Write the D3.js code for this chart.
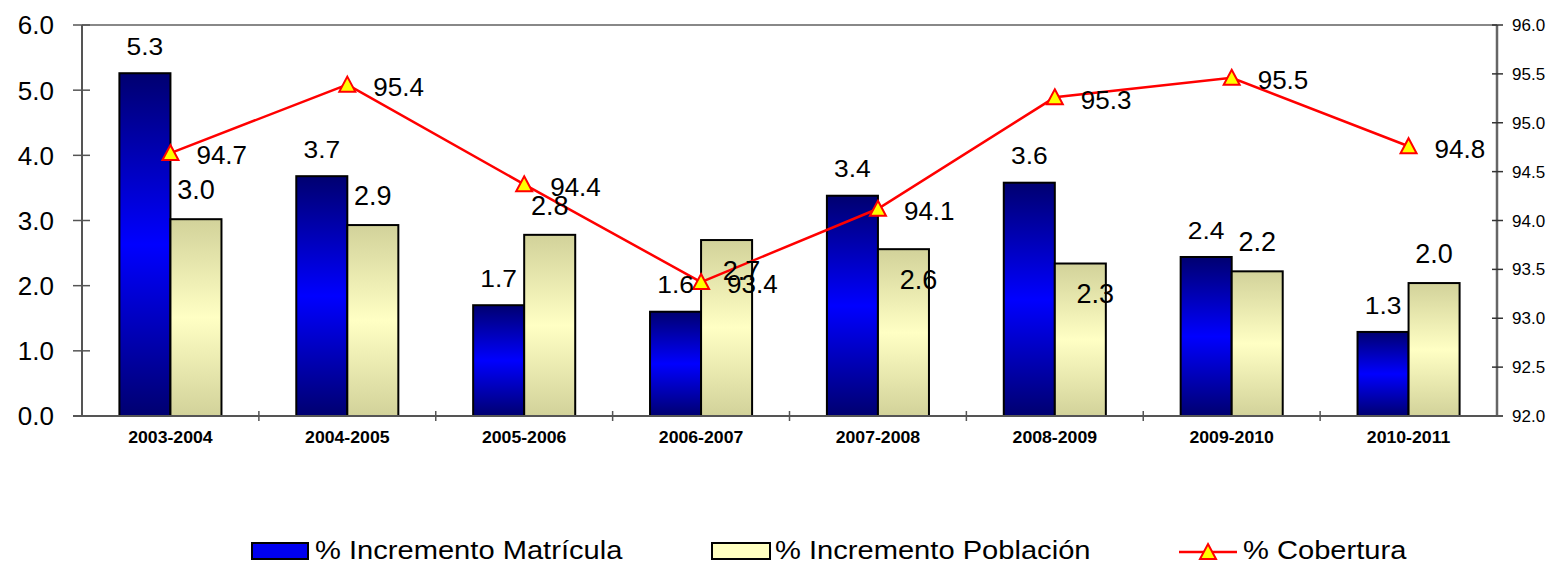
<!DOCTYPE html>
<html>
<head>
<meta charset="utf-8">
<script src="https://cdn.jsdelivr.net/npm/d3@7"></script>
<style>
  html, body { margin: 0; padding: 0; background: #fff; }
  svg { display: block; font-family: "Liberation Sans", Arial, sans-serif; }
</style>
</head>
<body>
<svg id="chart" width="1553" height="564"></svg>
<script>
// School-year periods
const categories = ["2003-2004", "2004-2005", "2005-2006", "2006-2007",
                    "2007-2008", "2008-2009", "2009-2010", "2010-2011"];
// % Incremento Matrícula (left axis)
const matricula = [5.26, 3.68, 1.70, 1.60, 3.38, 3.58, 2.44, 1.29];
// % Incremento Población (left axis)
const poblacion = [3.02, 2.93, 2.78, 2.70, 2.56, 2.34, 2.22, 2.04];
// % Cobertura (right axis)
const cobertura = [94.69, 95.39, 94.37, 93.37, 94.12, 95.26, 95.46, 94.76];
// Where each Población value label sits relative to its bar top
const poblacionLabelSide = ["above", "above", "above", "below", "below", "below", "above", "above"];

const leftTicks = [0, 1, 2, 3, 4, 5, 6];
const rightTicks = [92, 92.5, 93, 93.5, 94, 94.5, 95, 95.5, 96];
const seriesNames = ["% Incremento Matrícula", "% Incremento Población", "% Cobertura"];

const svg = d3.select("#chart");

const plot = { left: 82, right: 1497, top: 25, bottom: 416 };

const x = d3.scaleBand().domain(categories)
  .range([plot.left, plot.right])
  .paddingInner(0.423).paddingOuter(0.2115);
const xSub = d3.scaleBand().domain(["m", "p"]).range([0, x.bandwidth()]);
const yL = d3.scaleLinear().domain([0, 6]).range([plot.bottom, plot.top]);
const yR = d3.scaleLinear().domain([92, 96]).range([plot.bottom, plot.top]);

// Gradients for bars
const defs = svg.append("defs");
function vGrad(id, edge, mid) {
  const g = defs.append("linearGradient").attr("id", id)
    .attr("x1", 0).attr("y1", 0).attr("x2", 0).attr("y2", 1);
  g.append("stop").attr("offset", "0%").attr("stop-color", edge);
  g.append("stop").attr("offset", "50%").attr("stop-color", mid);
  g.append("stop").attr("offset", "100%").attr("stop-color", edge);
}
vGrad("gBlue", "#000070", "#0000FF");
vGrad("gBeige", "#D2D29A", "#FFFFC4");

// Top border of plot area
svg.append("line")
  .attr("x1", plot.left).attr("x2", plot.right)
  .attr("y1", plot.top).attr("y2", plot.top)
  .attr("stroke", "#888").attr("stroke-width", 2);

// Bars
const groups = svg.append("g").selectAll("g").data(categories).join("g")
  .attr("transform", d => `translate(${x(d)},0)`);

groups.append("rect")
  .attr("x", xSub("m")).attr("width", xSub.bandwidth())
  .attr("y", (d, i) => yL(matricula[i]))
  .attr("height", (d, i) => yL(0) - yL(matricula[i]))
  .attr("fill", "url(#gBlue)").attr("stroke", "#000").attr("stroke-width", 2);

groups.append("rect")
  .attr("x", xSub("p")).attr("width", xSub.bandwidth())
  .attr("y", (d, i) => yL(poblacion[i]))
  .attr("height", (d, i) => yL(0) - yL(poblacion[i]))
  .attr("fill", "url(#gBeige)").attr("stroke", "#000").attr("stroke-width", 2);

// Left axis
const axisColor = "#555";
svg.append("line").attr("x1", plot.left).attr("x2", plot.left)
  .attr("y1", plot.top).attr("y2", plot.bottom)
  .attr("stroke", axisColor).attr("stroke-width", 2);
const la = svg.append("g");
la.selectAll("line").data(leftTicks).join("line")
  .attr("x1", plot.left - 9).attr("x2", plot.left + 8)
  .attr("y1", d => yL(d)).attr("y2", d => yL(d))
  .attr("stroke", axisColor).attr("stroke-width", 1.5);
la.selectAll("text").data(leftTicks).join("text")
  .attr("x", plot.left - 28).attr("y", d => yL(d)).attr("dy", "0.36em")
  .attr("text-anchor", "end").attr("font-size", 26).attr("fill", "#000")
  .text(d => d3.format(".1f")(d));

// Right axis
svg.append("line").attr("x1", plot.right).attr("x2", plot.right)
  .attr("y1", plot.top).attr("y2", plot.bottom)
  .attr("stroke", "#666").attr("stroke-width", 2.5);
const ra = svg.append("g");
ra.selectAll("line").data(rightTicks).join("line")
  .attr("x1", plot.right - 5).attr("x2", plot.right + 6)
  .attr("y1", d => yR(d)).attr("y2", d => yR(d))
  .attr("stroke", "#333").attr("stroke-width", 1.5);
ra.selectAll("text").data(rightTicks).join("text")
  .attr("x", plot.right + 15).attr("y", d => yR(d)).attr("dy", "0.36em")
  .attr("text-anchor", "start").attr("font-size", 17).attr("fill", "#000")
  .text(d => d3.format(".1f")(d));

// Bottom axis with category separators
svg.append("line").attr("x1", plot.left - 9).attr("x2", plot.right + 6)
  .attr("y1", plot.bottom).attr("y2", plot.bottom)
  .attr("stroke", axisColor).attr("stroke-width", 2);
const step = x.step();
const seps = d3.range(1, categories.length);
svg.append("g").selectAll("line").data(seps).join("line")
  .attr("x1", i => plot.left + i * step).attr("x2", i => plot.left + i * step)
  .attr("y1", plot.bottom - 5).attr("y2", plot.bottom + 5)
  .attr("stroke", axisColor).attr("stroke-width", 1.5);
svg.append("g").selectAll("text").data(categories).join("text")
  .attr("transform", d => `translate(${x(d) + x.bandwidth() / 2},443) scale(1.04,1)`)
  .attr("text-anchor", "middle").attr("font-size", 17).attr("font-weight", "bold")
  .attr("fill", "#000").text(d => d);

// Cobertura line
const cx = (d, i) => x(categories[i]) + x.bandwidth() / 2;
const line = d3.line().x((d, i) => cx(d, i)).y(d => yR(d));
svg.append("path").datum(cobertura).attr("d", line)
  .attr("fill", "none").attr("stroke", "#FF0000").attr("stroke-width", 2.5);

const triPath = "M0,-8L8,7L-8,7Z";
svg.append("g").selectAll("path").data(cobertura).join("path")
  .attr("d", triPath)
  .attr("transform", (d, i) => `translate(${cx(d, i)},${yR(d)})`)
  .attr("fill", "#FFFF00").attr("stroke", "#FF0000").attr("stroke-width", 2);

// Value labels
const fmt = d3.format(".1f");
svg.append("g").selectAll("text").data(matricula).join("text")
  .attr("transform", (d, i) =>
    `translate(${x(categories[i]) + xSub("m") + xSub.bandwidth() / 2},${yL(d) - 27}) scale(1.1,1)`)
  .attr("dy", "0.36em")
  .attr("text-anchor", "middle").attr("font-size", 24).attr("fill", "#000")
  .text(fmt);

svg.append("g").selectAll("text").data(poblacion).join("text")
  .attr("x", (d, i) => x(categories[i]) + xSub("p") + xSub.bandwidth() / 2
        + (poblacionLabelSide[i] === "below" ? 15 : 0))
  .attr("y", (d, i) => yL(d) + (poblacionLabelSide[i] === "below" ? 30 : -30)).attr("dy", "0.36em")
  .attr("text-anchor", "middle").attr("font-size", 27).attr("fill", "#000")
  .text(fmt);

svg.append("g").selectAll("text").data(cobertura).join("text")
  .attr("x", (d, i) => cx(d, i) + 26).attr("y", d => yR(d) + 2).attr("dy", "0.36em")
  .attr("text-anchor", "start").attr("font-size", 26).attr("fill", "#000")
  .text(fmt);

// Legend
const legend = svg.append("g").attr("font-size", 26).attr("fill", "#000");
const legY = 551;
const legText = (tx, label) => legend.append("text")
  .attr("transform", `translate(${tx},${legY + 8}) scale(1.12,1)`).text(label);

legend.append("rect").attr("x", 252).attr("y", legY - 8).attr("width", 56).attr("height", 16)
  .attr("fill", "#0000F0").attr("stroke", "#000").attr("stroke-width", 2);
legText(315, seriesNames[0]);

legend.append("rect").attr("x", 712).attr("y", legY - 8).attr("width", 58).attr("height", 16)
  .attr("fill", "#FFFFC0").attr("stroke", "#000").attr("stroke-width", 2);
legText(775, seriesNames[1]);

legend.append("line").attr("x1", 1179).attr("x2", 1237).attr("y1", legY + 1).attr("y2", legY + 1)
  .attr("stroke", "#FF0000").attr("stroke-width", 2.5);
legend.append("path").attr("d", triPath).attr("transform", `translate(1208,${legY + 1})`)
  .attr("fill", "#FFFF00").attr("stroke", "#FF0000").attr("stroke-width", 2);
legText(1243, seriesNames[2]);
</script>
</body>
</html>
